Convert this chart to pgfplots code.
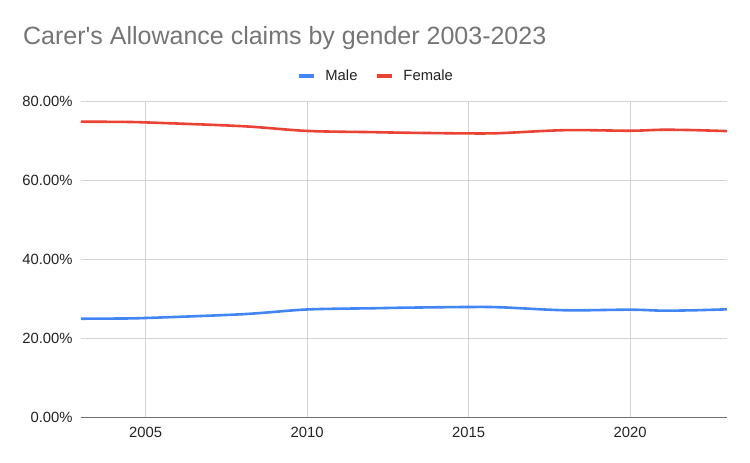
\documentclass[border=0pt]{standalone}
\usepackage{fontspec}
\setmainfont{Liberation Sans}[Ligatures=TeXOff]
\usepackage{pgfplots}
\pgfplotsset{compat=1.18}

\definecolor{male}{HTML}{4285F4}
\definecolor{female}{HTML}{EA4335}
\definecolor{titlegray}{HTML}{757575}
\definecolor{gridgray}{HTML}{D3D3D3}
\definecolor{axisgray}{HTML}{707070}
\definecolor{ticktext}{HTML}{222222}

% share of claims, per cent
\pgfplotstableread{
year male female
2003 25.06 74.94
2004 25.10 74.90
2005 25.24 74.76
2008 26.20 73.80
2010 27.40 72.60
2012 27.70 72.30
2013 27.85 72.15
2015 28.03 71.97
2016 27.95 72.05
2018 27.20 72.80
2020 27.35 72.65
2021 27.10 72.90
2022 27.20 72.80
2023 27.44 72.56
}\claims

\begin{document}
\begin{tikzpicture}
\begin{axis}[
    scale only axis,
    width=646bp, height=316bp,
    xmin=2003, xmax=2023, ymin=0, ymax=80,
    clip=false,
    axis line style={draw=none},
    xtick={2005,2010,2015,2020},
    xticklabels={2005,2010,2015,2020},
    ytick={0,20,40,60,80},
    yticklabels={0.00\%,20.00\%,40.00\%,60.00\%,80.00\%},
    major tick length=0pt,
    grid=major,
    major grid style={draw=gridgray, line width=0.9bp},
    ticklabel style={font=\fontsize{14.8bp}{17bp}\selectfont, text=ticktext, inner sep=0pt},
    yticklabel style={anchor=east, xshift=-8.3bp},
    xticklabel style={anchor=north, yshift=-9.7bp},
    legend columns=2,
    legend style={at={(rel axis cs:0.3344,1.081)}, anchor=west,
        draw=none, fill=none, inner sep=0pt,
        font=\fontsize{14.8bp}{17bp}\selectfont, text=ticktext,
        nodes={inner sep=0pt},
        /tikz/every odd column/.append style={column sep=9.2bp},
        /tikz/every even column/.append style={column sep=17.8bp}},
    legend image code/.code={\draw[#1, line width=4bp, line cap=butt] (0bp,0bp) -- (15bp,0bp);},
]
\addplot[male, line width=2.6bp, smooth, tension=0.5] table[x=year, y=male] {\claims};
\addlegendentry{Male}
\addplot[female, line width=2.6bp, smooth, tension=0.5] table[x=year, y=female] {\claims};
\addlegendentry{Female}
\draw[axisgray, line width=1.3bp] (rel axis cs:0,0) -- (rel axis cs:1,0);
\coordinate (o) at (rel axis cs:0,0);
\end{axis}
\node[anchor=base west, inner sep=0pt, text=titlegray, font=\fontsize{25bp}{30bp}\selectfont]
    at ([xshift=-58bp, yshift=372.7bp]o) {Carer's Allowance claims by gender 2003-2023};
\pgfresetboundingbox
\path[use as bounding box] ([xshift=-81bp, yshift=-45.3bp]o) rectangle ([xshift=669bp, yshift=417.7bp]o);
\end{tikzpicture}
\end{document}
